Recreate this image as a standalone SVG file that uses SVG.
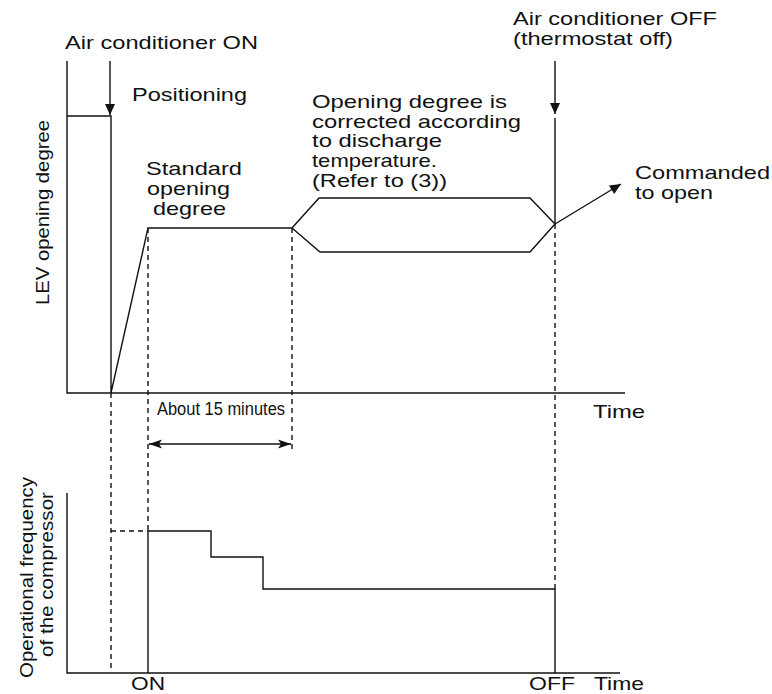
<svg xmlns="http://www.w3.org/2000/svg" width="772" height="694" viewBox="0 0 772 694">
<style>
  text { font-family: "Liberation Sans", Arial, sans-serif; font-size: 19px; fill: #111; }
  .small { font-size: 18px; }
  .ln { fill: none; stroke: #111; stroke-width: 1.4; }
  .dash { fill: none; stroke: #111; stroke-width: 1.4; stroke-dasharray: 5 4; }
</style>
<defs>
  <marker id="ah" markerUnits="userSpaceOnUse" markerWidth="14" markerHeight="12" viewBox="-12 -6 14 12" refX="0" refY="0" orient="auto-start-reverse">
    <path d="M0,0 L-11,-5 L-11,5 z" fill="#111"/>
  </marker>
  <marker id="ah2" markerUnits="userSpaceOnUse" markerWidth="16" markerHeight="12" viewBox="-14 -6 16 12" refX="0" refY="0" orient="auto-start-reverse">
    <path d="M0,0 L-13,-4.5 L-10,0 L-13,4.5 z" fill="#111"/>
  </marker>
</defs>

<g id="axes">
  <path class="ln" d="M67,61 V393 H625"/>
  <path class="ln" d="M67,493 V673 H620"/>
</g>

<g id="connectors">
  <line class="ln" x1="110" y1="61" x2="110" y2="115" marker-end="url(#ah)"/>
  <line class="ln" x1="555" y1="61" x2="555" y2="114" marker-end="url(#ah)"/>
  <line class="ln" x1="555" y1="224" x2="621" y2="184" marker-end="url(#ah)"/>
  <line class="ln" x1="149" y1="444" x2="291" y2="444" marker-start="url(#ah2)" marker-end="url(#ah2)"/>
  <line class="dash" x1="111" y1="393" x2="111" y2="668"/>
  <line class="dash" x1="148" y1="228" x2="148" y2="531"/>
  <line class="dash" x1="292" y1="228" x2="292" y2="450"/>
  <line class="dash" x1="555" y1="224" x2="555" y2="589"/>
  <line class="dash" x1="111" y1="531" x2="148" y2="531"/>
</g>

<g id="lev-curve">
  <path class="ln" d="M67,116 H111 V393 L148,228 H292 L319,198 H530 L555,224 L530,252 H320 L292,228"/>
  <line class="ln" x1="555" y1="118" x2="555" y2="224"/>
</g>

<g id="freq-curve">
  <path class="ln" d="M148,673 V531 H211 V557 H263 V589 H555 V673"/>
</g>

<g id="labels">
  <text x="65" y="49" textLength="193" lengthAdjust="spacingAndGlyphs">Air conditioner ON</text>
  <text x="132" y="101" textLength="115" lengthAdjust="spacingAndGlyphs">Positioning</text>
  <text x="146" y="175" textLength="96" lengthAdjust="spacingAndGlyphs">Standard</text>
  <text x="147" y="195" textLength="83" lengthAdjust="spacingAndGlyphs">opening</text>
  <text x="153" y="215" textLength="73" lengthAdjust="spacingAndGlyphs">degree</text>
  <text x="312" y="108" textLength="195" lengthAdjust="spacingAndGlyphs">Opening degree is</text>
  <text x="312" y="128" textLength="209" lengthAdjust="spacingAndGlyphs">corrected according</text>
  <text x="312" y="147" textLength="130" lengthAdjust="spacingAndGlyphs">to discharge</text>
  <text x="312" y="167" textLength="125" lengthAdjust="spacingAndGlyphs">temperature.</text>
  <text x="312" y="187" textLength="135" lengthAdjust="spacingAndGlyphs">(Refer to (3))</text>
  <text x="513" y="25" textLength="204" lengthAdjust="spacingAndGlyphs">Air conditioner OFF</text>
  <text x="513" y="45" textLength="160" lengthAdjust="spacingAndGlyphs">(thermostat off)</text>
  <text x="635" y="179" textLength="135" lengthAdjust="spacingAndGlyphs">Commanded</text>
  <text x="635" y="199" textLength="78" lengthAdjust="spacingAndGlyphs">to open</text>
  <text x="593" y="418" textLength="52" lengthAdjust="spacingAndGlyphs">Time</text>
  <text class="small" x="157" y="415" textLength="128" lengthAdjust="spacingAndGlyphs">About 15 minutes</text>
  <text x="131" y="690" textLength="34" lengthAdjust="spacingAndGlyphs">ON</text>
  <text x="529" y="690" textLength="46" lengthAdjust="spacingAndGlyphs">OFF</text>
  <text x="594" y="690" textLength="50" lengthAdjust="spacingAndGlyphs">Time</text>
  <text transform="translate(49,305) rotate(-90)" textLength="185" lengthAdjust="spacingAndGlyphs">LEV opening degree</text>
  <text transform="translate(33,678) rotate(-90)" textLength="201" lengthAdjust="spacingAndGlyphs">Operational frequency</text>
  <text transform="translate(53,657) rotate(-90)" textLength="165" lengthAdjust="spacingAndGlyphs">of the compressor</text>
</g>
</svg>
